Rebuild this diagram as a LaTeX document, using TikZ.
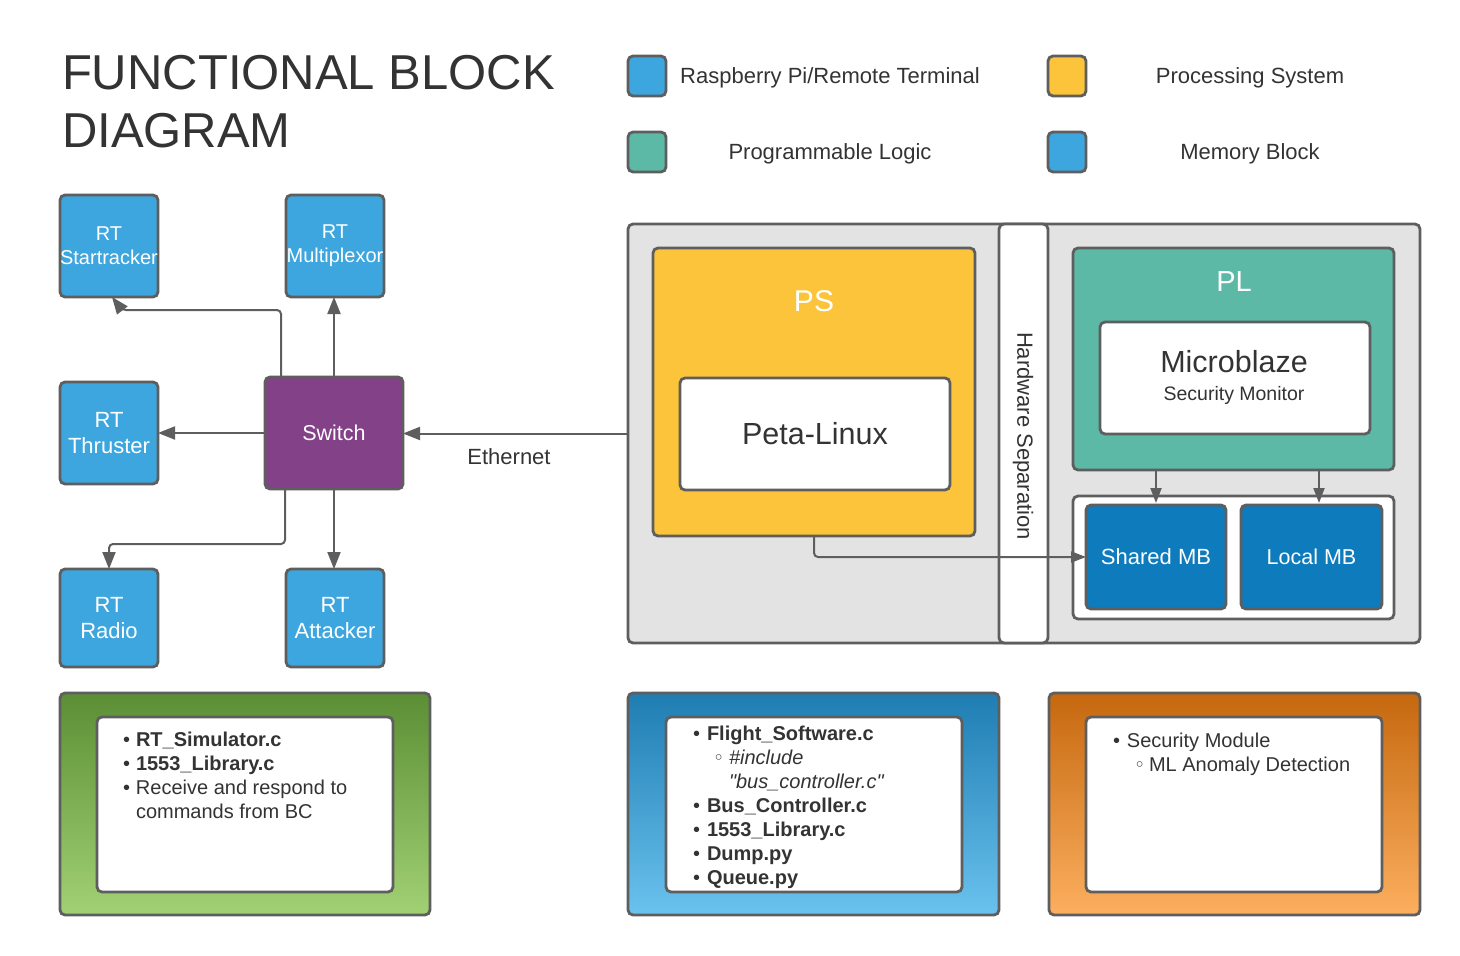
\documentclass[tikz,border=0pt]{standalone}
\usepackage{fontspec}
\setmainfont{Liberation Sans}
\newfontfamily\dejavu{DejaVu Sans}
\usetikzlibrary{arrows.meta,calc}
\definecolor{rtblue}{HTML}{3DA6DE}
\definecolor{bordergray}{HTML}{5E5E5E}
\definecolor{linegray}{HTML}{5E5E5E}
\definecolor{switchpurple}{HTML}{834187}
\definecolor{psyellow}{HTML}{FBC43A}
\definecolor{plteal}{HTML}{5BB9A6}
\definecolor{zonegray}{HTML}{E3E3E3}
\definecolor{mbblue}{HTML}{0E7BBC}
\definecolor{darktext}{HTML}{333333}
\definecolor{greentop}{HTML}{5B8E35}
\definecolor{greenbot}{HTML}{A2D174}
\definecolor{bluetop}{HTML}{1F7DB2}
\definecolor{bluebot}{HTML}{6AC2EE}
\definecolor{orangetop}{HTML}{C5680F}
\definecolor{orangebot}{HTML}{FCAF5F}
\begin{document}
\begin{tikzpicture}[x=1pt,y=-1pt,
  box/.style={draw=bordergray, line width=2.8pt, rounded corners=5pt, inner sep=0pt, outer sep=0pt},
  rtbox/.style={box, fill=rtblue, minimum width=98pt, text=white, align=center, font=\fontsize{22}{26}\selectfont},
  conn/.style={draw=linegray, line width=2pt, -{Triangle[length=17pt,width=13pt]}},
  smallconn/.style={draw=linegray, line width=2pt, -{Triangle[length=15pt,width=11pt]}},
  txt/.style={inner sep=0pt, outer sep=0pt, text=darktext},
  listline/.style={txt, anchor=base west, font=\fontsize{20}{24}\selectfont},
  legsq/.style={box, minimum width=38pt, minimum height=40pt},
  legtxt/.style={txt, anchor=base, font=\fontsize{22}{26}\selectfont},
  panel/.style={box, minimum width=370pt, minimum height=222pt},
  inner/.style={box, fill=white, minimum width=296pt, minimum height=175pt}
]
\useasboundingbox (0,0) rectangle (1460,956);

% Title
\node[txt, anchor=base west, font=\fontsize{49}{58}\selectfont] (title1) at (62,89) {FUNCTIONAL BLOCK};
\node[txt, anchor=base west, font=\fontsize{49}{58}\selectfont] (title2) at (62,147) {DIAGRAM};

% Legend
\node[legsq, fill=rtblue] (lg1) at (647,76) {};
\node[legtxt] (lt1) at (830,83) {Raspberry Pi/Remote Terminal};
\node[legsq, fill=psyellow] (lg2) at (1067,76) {};
\node[legtxt] (lt2) at (1250,83) {Processing System};
\node[legsq, fill=plteal] (lg3) at (647,152) {};
\node[legtxt] (lt3) at (830,159) {Programmable Logic};
\node[legsq, fill=rtblue] (lg4) at (1067,152) {};
\node[legtxt] (lt4) at (1250,159) {Memory Block};

% RT boxes
\node[rtbox, minimum height=102pt, font=\fontsize{20}{24}\selectfont] (st) at (109,246) {RT\\Startracker};
\node[rtbox, minimum height=102pt, font=\fontsize{20}{24}\selectfont] (mx) at (335,246) {RT\\Multiplexor};
\node[rtbox, minimum height=102pt] (th) at (109,433) {RT\\Thruster};
\node[rtbox, minimum height=98pt] (ra) at (109,618) {RT\\Radio};
\node[rtbox, minimum height=98pt] (at) at (335,618) {RT\\Attacker};
\node[box, fill=switchpurple, minimum width=138pt, minimum height=112pt, text=white, font=\fontsize{21.5}{26}\selectfont] (sw) at (334,433) {Switch};

% Zynq area
\node[box, fill=zonegray, minimum width=792pt, minimum height=419pt] (zone) at (1024,433.5) {};
\node[box, fill=white, minimum width=49pt, minimum height=419pt] (bar) at (1023.5,433.5) {};
\node[txt, rotate=-90, font=\fontsize{22}{26}\selectfont] (hwsep) at (1023,436) {Hardware Separation};

\node[box, fill=psyellow, minimum width=322pt, minimum height=288pt] (ps) at (814,392) {};
\node[txt, text=white, font=\fontsize{30}{36}\selectfont] (pslabel) at (814,301) {PS};
\node[box, fill=white, minimum width=270pt, minimum height=112pt, text=darktext, font=\fontsize{30.5}{36}\selectfont] (peta) at (815,434) {Peta-Linux};

\node[box, fill=plteal, minimum width=321pt, minimum height=222pt] (pl) at (1233.5,359) {};
\node[txt, text=white, font=\fontsize{29}{34}\selectfont] (pllabel) at (1234,282) {PL};
\node[box, fill=white, minimum width=270pt, minimum height=112pt] (micro) at (1235,378) {};
\node[txt, font=\fontsize{30.5}{36}\selectfont] (microtxt) at (1234,362) {Microblaze};
\node[txt, font=\fontsize{19.5}{24}\selectfont] (sectxt) at (1234,395) {Security Monitor};

\node[box, fill=white, minimum width=321pt, minimum height=123pt] (mem) at (1233.5,557.5) {};
\node[box, fill=mbblue, minimum width=140pt, minimum height=104pt, text=white, font=\fontsize{22}{26}\selectfont] (shared) at (1156,557) {Shared MB};
\node[box, fill=mbblue, minimum width=141pt, minimum height=104pt, text=white, font=\fontsize{21.5}{26}\selectfont] (local) at (1311.5,557) {Local MB};

% Connectors
\draw[conn] (zone.west -| zone.west) -- (zone.west -| sw.east);
\node[txt, font=\fontsize{22}{26}\selectfont] (eth) at (509,457) {Ethernet};
\draw[conn] (sw.north) -- (sw.north |- mx.south);
\draw[conn] (sw.west) -- (th.east);
\draw[conn] (sw.south) -- (sw.south |- at.north);
\draw[conn, rounded corners=4pt] ([xshift=16pt]sw.north west) |- ([xshift=13pt,yshift=-13pt]st.south) -- ([xshift=3pt]st.south);
\draw[conn, rounded corners=4pt] ([xshift=20pt]sw.south west) |- ([yshift=25pt]ra.north) -- (ra.north);

\draw[smallconn, rounded corners=4pt] (ps.south) |- (shared.west);
\draw[smallconn] (pl.south -| shared.north) -- ([yshift=2pt]shared.north);
\draw[smallconn] (pl.south -| {1319,0}) -- ([xshift=7.5pt,yshift=2pt]local.north);

% Bottom panels
\node[panel, top color=greentop, bottom color=greenbot] (gp) at (245,804) {};
\node[inner] (gi) at (245,804.5) {};
\node[listline] (g1) at (123,746) {\makebox[13pt][l]{•}\textbf{RT\_Simulator.c}};
\node[listline] (g2) at (123,770) {\makebox[13pt][l]{•}\textbf{1553\_Library.c}};
\node[listline] (g3) at (123,794) {\makebox[13pt][l]{•}Receive and respond to};
\node[listline] (g4) at (136,818) {commands from BC};

\node[panel, top color=bluetop, bottom color=bluebot, minimum width=371pt] (bp) at (813.5,804) {};
\node[inner] (bi) at (814,804.5) {};
\node[listline] (b1) at (693,740) {\makebox[14pt][l]{•}\textbf{Flight\_Software.c}};
\node[listline] (b2) at (713,764) {\makebox[16pt][l]{\fontsize{19}{20}\dejavu ◦}\textit{\#include}};
\node[listline] (b3) at (729,788) {\textit{\textquotedbl bus\_controller.c\textquotedbl}};
\node[listline] (b4) at (693,812) {\makebox[14pt][l]{•}\textbf{Bus\_Controller.c}};
\node[listline] (b5) at (693,836) {\makebox[14pt][l]{•}\textbf{1553\_Library.c}};
\node[listline] (b6) at (693,860) {\makebox[14pt][l]{•}\textbf{Dump.py}};
\node[listline] (b7) at (693,884) {\makebox[14pt][l]{•}\textbf{Queue.py}};

\node[panel, top color=orangetop, bottom color=orangebot, minimum width=371pt] (op) at (1234.5,804) {};
\node[inner] (oi) at (1234,804.5) {};
\node[listline] (o1) at (1113,747) {\makebox[14pt][l]{•}Security Module};
\node[listline] (o2) at (1134,771) {\makebox[15pt][l]{\fontsize{19}{20}\dejavu ◦}ML Anomaly Detection};
\end{tikzpicture}
\end{document}
